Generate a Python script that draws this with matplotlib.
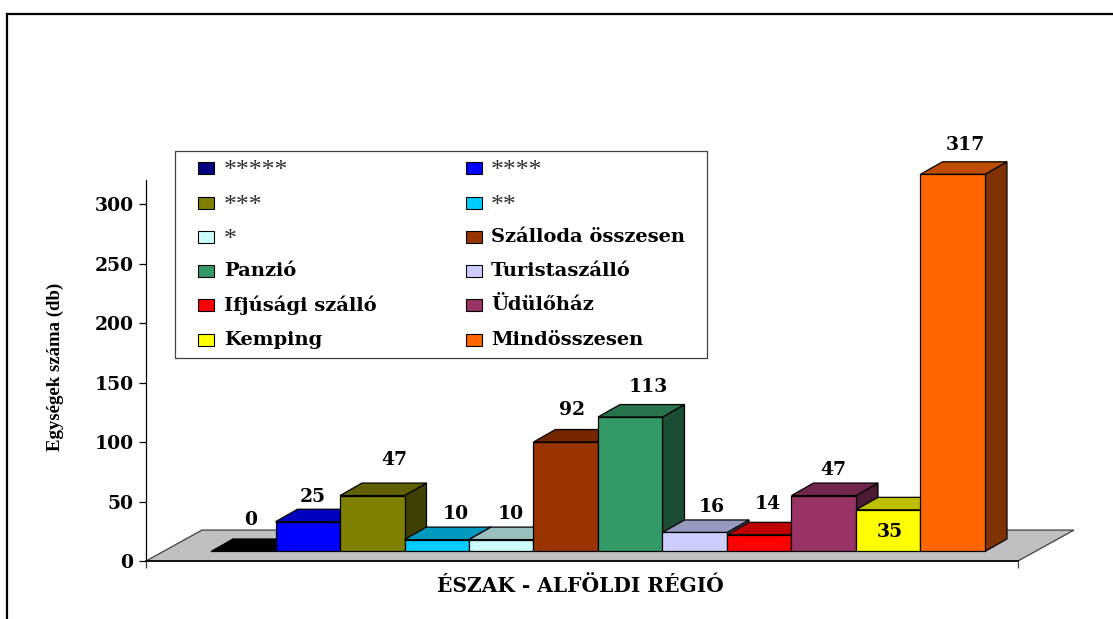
import matplotlib
matplotlib.use('Agg')
import matplotlib.pyplot as plt
from matplotlib.patches import Polygon, Rectangle
from matplotlib.lines import Line2D

plt.rcParams['font.family'] = 'DejaVu Serif'
plt.rcParams['font.weight'] = 'bold'

W, H = 1113, 619

categories = ['*****', '****', '***', '**', '*', 'Szálloda összesen', 'Panzió',
              'Turistaszálló', 'Ifjúsági szálló', 'Üdülőház', 'Kemping', 'Mindösszesen']
values = [0, 25, 47, 10, 10, 92, 113, 16, 14, 47, 35, 317]
colors = ['#000080', '#0000FF', '#808000', '#00CCFF', '#CCFFFF', '#993300', '#339966',
          '#CCCCFF', '#FF0000', '#993366', '#FFFF00', '#FF6600']
yticks = [0, 50, 100, 150, 200, 250, 300]
ylabel = 'Egységek száma (db)'
xlabel = 'ÉSZAK - ALFÖLDI RÉGIÓ'

# data label shift from the bar's top centre, in pixels (x, y down)
label_shift = [(7, -31.5), (5, -24.7), (22, -35.6), (19, -25.6), (10, -25.6), (6, -32),
               (18, -30), (17, -25.5), (9, -30.8), (10, -25.6), (2, 22), (13, -29)]


def shade(c, f):
    rgb = matplotlib.colors.to_rgb(c)
    return tuple(v * f for v in rgb)


fig = plt.figure(figsize=(W / 100, H / 100), dpi=100)
ax = fig.add_axes([146 / W, 1 - 561 / H, (1018 - 146) / W, (561 - 180) / H])
ax.set_xlim(0, 13.52)
ax.set_ylim(0, 320.2)
for s in ['top', 'right', 'bottom']:
    ax.spines[s].set_visible(False)
ax.spines['left'].set_linewidth(0.9)

# frame, only top and left show in the picture
fig.add_artist(Line2D([7 / W, 1], [1 - 14 / H, 1 - 14 / H], color='k', lw=1.6))
fig.add_artist(Line2D([7 / W, 7 / W], [0, 1 - 14 / H], color='k', lw=1.6))

# floor
floor_dx, floor_dy = 0.868, 26
x_end = ax.get_xlim()[1]
ax.add_patch(Polygon([(0, 0), (floor_dx, floor_dy), (x_end + floor_dx, floor_dy), (x_end, 0)],
                     closed=True, fc='#C0C0C0', ec='#404040', lw=0.9, clip_on=False, zorder=1))
ax.plot([0, x_end], [0, 0], color='k', lw=1.2, clip_on=False, zorder=1.5)

# bars
x_start = 1.008
base = 8
dx, dy = 0.341, 10.5
for i, v in enumerate(values):
    x0 = x_start + i
    x1 = x0 + 1
    top = base + v
    z = 2 + i * 0.1
    c = colors[i]
    top_col = 'k' if v == 0 else shade(c, 0.75)
    ax.add_patch(Polygon([(x1, base), (x1 + dx, base + dy), (x1 + dx, top + dy), (x1, top)],
                         fc=shade(c, 0.5), ec='k', lw=0.9, clip_on=False, zorder=z))
    ax.add_patch(Polygon([(x0, top), (x0 + dx, top + dy), (x1 + dx, top + dy), (x1, top)],
                         fc=top_col, ec='k', lw=0.9, clip_on=False, zorder=z))
    if v > 0:
        ax.add_patch(Rectangle((x0, base), 1, v, fc=c, ec='k', lw=0.9, clip_on=False, zorder=z))
    ax.annotate(str(v), xy=(x0 + 0.5, top), xytext=(label_shift[i][0], -label_shift[i][1]),
                textcoords='offset pixels', ha='center', va='center', fontsize=13.5,
                color='k', zorder=5, annotation_clip=False)

# axes
ax.set_yticks(yticks)
ax.set_yticklabels([str(t) for t in yticks], fontsize=13.5)
ax.tick_params(axis='y', length=5, width=0.9, pad=4)
ax.set_xticks([0, x_end])
ax.set_xticklabels(['', ''])
ax.tick_params(axis='x', length=5, width=0.9, color='#404040')
fig.text(55 / W, 1 - 367 / H, ylabel, rotation=90, ha='center', va='center', fontsize=13.5,
         family='Liberation Serif')
fig.text(580 / W, 1 - 586 / H, xlabel, ha='center', va='center', fontsize=14.5)

# legend box
fig.add_artist(Rectangle((175 / W, 1 - 358 / H), (707 - 175) / W, (358 - 151) / H,
                         transform=fig.transFigure, fc='white', ec='#404040', lw=0.9, zorder=6))
rows_y = [168, 203, 237, 271, 305, 340]
for i, name in enumerate(categories):
    row = i // 2
    col = i % 2
    sx = [198, 466][col]
    tx = [224, 491][col]
    y = rows_y[row]
    fig.add_artist(Rectangle((sx / W, 1 - (y + 6) / H), 16 / W, 12 / H, transform=fig.transFigure,
                             fc=colors[i], ec='k', lw=0.8, zorder=7))
    star = name.startswith('*')
    fig.text(tx / W, 1 - (y + (3 if star else 0)) / H, name, ha='left', va='center',
             fontsize=18.5 if star else 14, zorder=8,
             color='#303030' if star else 'k', fontweight='normal' if star else 'bold',
             family='Liberation Serif' if star else 'DejaVu Serif')

fig.savefig('out.png', dpi=100)
